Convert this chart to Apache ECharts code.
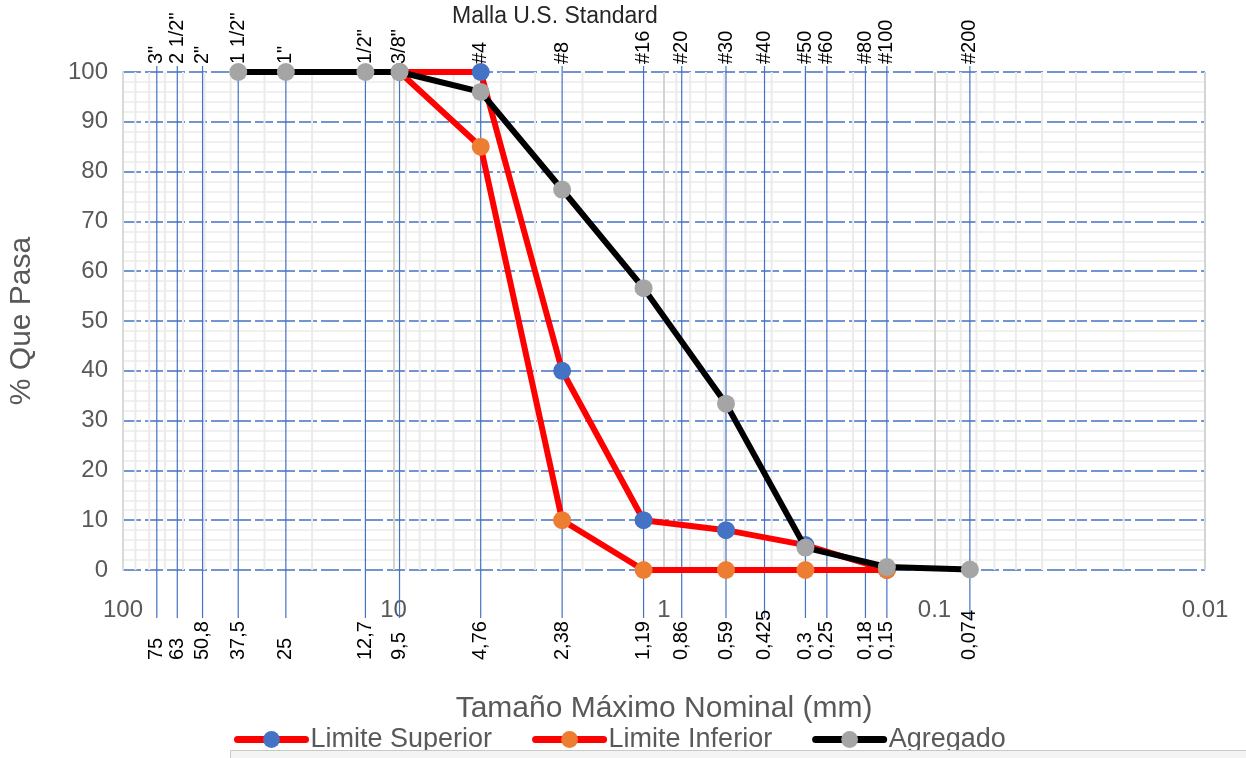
<!DOCTYPE html>
<html>
<head>
<meta charset="utf-8">
<title>Curva granulométrica</title>
<script src="https://cdn.jsdelivr.net/npm/echarts@6/dist/echarts.min.js"></script>
<style>
  html, body { margin: 0; padding: 0; background: #fff; }
  #myChart { width: 1246px; height: 758px; }
</style>
</head>
<body>
<div id="myChart"></div>
<script>
// tamices (mm) y sus nombres
const sieveSizes = [75, 63, 50.8, 37.5, 25, 12.7, 9.5, 4.76, 2.38, 1.19, 0.86, 0.59, 0.425, 0.3, 0.25, 0.18, 0.15, 0.074]
const sieveNames = ['3"', '2 1/2"', '2"', '1 1/2"', '1"', '1/2"', '3/8"', '#4', '#8', '#16', '#20', '#30', '#40', '#50', '#60', '#80', '#100', '#200']
const sieveLabels = ['75', '63', '50,8', '37,5', '25', '12,7', '9,5', '4,76', '2,38', '1,19', '0,86', '0,59', '0,425', '0,3', '0,25', '0,18', '0,15', '0,074']

// curvas
const limitSizes = [9.5, 4.76, 2.38, 1.19, 0.59, 0.3, 0.15]
const supValues = [100, 100, 40, 10, 8, 5, 0]
const infValues = [100, 85, 10, 0, 0, 0, 0]
const aggSizes = [37.5, 25, 12.7, 9.5, 4.76, 2.38, 1.19, 0.59, 0.3, 0.15, 0.074]
const aggValues = [100, 100, 100, 100, 96, 76.4, 56.6, 33.4, 4.5, 0.6, 0.1]

const FONT = "'Liberation Sans', Arial, sans-serif"

// lineas menores de la grilla logaritmica
const minorSizes = []
;[10, 1, 0.1, 0.01].forEach(d => {
  for (let k = 2; k <= 9; k++) minorSizes.push(+(k * d).toPrecision(3))
})

function pairs(xs, ys) {
  return xs.map((x, i) => [x, ys[i]])
}

function renderMinor(params, api) {
  const a = api.coord([api.value(0), 100])
  const b = api.coord([api.value(0), 0])
  return {
    type: 'line',
    shape: { x1: a[0], y1: a[1], x2: b[0], y2: b[1] },
    style: { stroke: '#ebebeb', lineWidth: 2 }
  }
}

function renderSieve(params, api) {
  const top = api.coord([api.value(0), 100])
  const bottom = api.coord([api.value(0), 0])
  const x = top[0]
  const i = params.dataIndex
  return {
    type: 'group',
    children: [
      {
        type: 'line',
        shape: { x1: x, y1: top[1] - 6, x2: x, y2: bottom[1] + 48 },
        style: { stroke: '#4472C4', lineWidth: 1.2 }
      },
      {
        type: 'text',
        x: x,
        y: top[1] - 8,
        rotation: Math.PI / 2,
        style: { text: sieveNames[i], fill: '#000', fontSize: 20, fontFamily: FONT, align: 'left', verticalAlign: 'middle' }
      },
      {
        type: 'text',
        x: x,
        y: bottom[1] + 90,
        rotation: Math.PI / 2,
        style: { text: sieveLabels[i], fill: '#000', fontSize: 20, fontFamily: FONT, align: 'left', verticalAlign: 'middle' }
      }
    ]
  }
}

function lineSeries(name, data, markerColor, lineColor, z) {
  return {
    name: name,
    type: 'line',
    data: data,
    z: z,
    symbol: 'circle',
    symbolSize: 18,
    itemStyle: { color: markerColor },
    lineStyle: { color: lineColor, width: 6 }
  }
}

const chart = echarts.init(document.getElementById('myChart'))

chart.setOption({
  animation: false,
  textStyle: { fontFamily: FONT },
  title: {
    text: 'Malla U.S. Standard',
    left: 452,
    top: 5,
    padding: 0,
    textStyle: { fontSize: 23, fontWeight: 'normal', color: '#262626', fontFamily: FONT }
  },
  legend: {
    data: ['Limite Superior', 'Limite Inferior', 'Agregado'],
    left: 234,
    top: 726,
    padding: 0,
    itemWidth: 68,
    itemHeight: 21,
    itemGap: 40,
    lineStyle: { width: 7, cap: 'round' },
    textStyle: { fontSize: 27, color: '#595959', fontFamily: FONT }
  },
  grid: {
    left: 123,
    right: 41,
    top: 72,
    bottom: 188,
    containLabel: false,
    outerBoundsMode: 'none'
  },
  xAxis: {
    type: 'log',
    logBase: 10,
    min: 0.01,
    max: 100,
    inverse: true,
    name: 'Tamaño Máximo Nominal (mm)',
    nameLocation: 'middle',
    nameGap: 124,
    nameTextStyle: { fontSize: 30, color: '#595959', fontFamily: FONT },
    axisLine: { show: false },
    axisTick: { show: false },
    axisLabel: {
      margin: 28,
      fontSize: 24,
      color: '#595959',
      showMinLabel: true,
      showMaxLabel: true,
      formatter: v => String(+v.toPrecision(2))
    },
    splitLine: { show: true, lineStyle: { color: '#d4d4d4', width: 2 } }
  },
  yAxis: {
    type: 'value',
    min: 0,
    max: 100,
    interval: 10,
    name: '% Que Pasa',
    nameLocation: 'middle',
    nameGap: 86,
    nameTextStyle: { fontSize: 30, color: '#595959', fontFamily: FONT },
    axisLine: { show: true, lineStyle: { color: '#d9d9d9', width: 2 } },
    axisTick: { show: false },
    axisLabel: { margin: 15, fontSize: 24, color: '#595959' },
    minorTick: { show: false, splitNumber: 5 },
    minorSplitLine: { show: true, lineStyle: { color: '#ebebeb', width: 1.5 } },
    splitLine: { show: true, lineStyle: { color: '#4472C4', width: 1.5, type: [18, 4] } }
  },
  graphic: [
    {
      type: 'rect',
      left: 230,
      top: 750,
      z: 100,
      shape: { width: 1016, height: 8 },
      style: { fill: '#f4f4f4', stroke: '#c8c8c8', lineWidth: 1 }
    }
  ],
  series: [
    {
      type: 'custom',
      silent: true,
      z: 1,
      renderItem: renderMinor,
      data: minorSizes.map(s => [s, 0])
    },
    {
      type: 'custom',
      silent: true,
      clip: false,
      z: 1,
      renderItem: renderSieve,
      data: sieveSizes.map(s => [s, 0])
    },
    lineSeries('Limite Superior', pairs(limitSizes, supValues), '#4472C4', '#FF0000', 3),
    lineSeries('Limite Inferior', pairs(limitSizes, infValues), '#ED7D31', '#FF0000', 4),
    lineSeries('Agregado', pairs(aggSizes, aggValues), '#A5A5A5', '#000000', 5)
  ]
})
</script>
</body>
</html>
